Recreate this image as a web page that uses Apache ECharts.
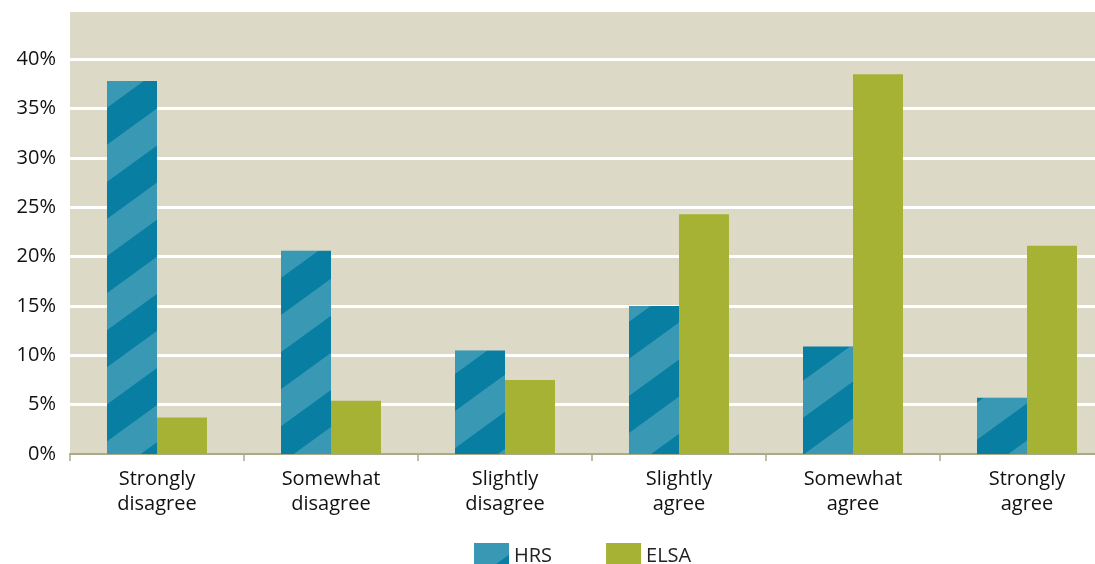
<!DOCTYPE html>
<html lang="en">
<head>
  <meta charset="UTF-8">
  <title>HRS vs ELSA</title>
  <style>
    html, body { margin: 0; padding: 0; background: #ffffff; }
    #main { width: 1095px; height: 564px; }
  </style>
  <script src="https://cdn.jsdelivr.net/npm/echarts@6/dist/echarts.min.js"></script>
</head>
<body>
  <div id="main"></div>
  <script>
    // categories and values (percent)
    var categories = ['Strongly\ndisagree', 'Somewhat\ndisagree', 'Slightly\ndisagree', 'Slightly\nagree', 'Somewhat\nagree', 'Strongly\nagree'];
    var hrsValues = [37.8, 20.6, 10.5, 15.0, 10.9, 5.7];
    var elsaValues = [3.7, 5.4, 7.5, 24.3, 38.5, 21.1];
    var yTicks = [0, 5, 10, 15, 20, 25, 30, 35, 40];

    var chart = echarts.init(document.getElementById('main'));

    var option = {
      textStyle: { fontFamily: '"Open Sans", sans-serif' },
      grid: {
        left: 70,
        width: 1044,   // plot runs past the right edge in the original
        top: 10,
        bottom: 110,
        outerBoundsMode: 'none',
        show: true,
        backgroundColor: '#dcd9c6',
        borderWidth: 0
      },
      legend: {
        left: 469,
        top: 538,
        icon: 'rect',
        itemWidth: 35,
        itemHeight: 26,
        itemGap: 54,
        textStyle: { fontSize: 20, color: '#222' },
        data: ['HRS', 'ELSA']
      },
      xAxis: {
        type: 'category',
        data: categories,
        axisLine: { lineStyle: { color: '#a9aa8a', width: 2 } },
        axisTick: { show: true, length: 7, lineStyle: { color: '#a9aa8a', width: 1.5 } },
        axisLabel: {
          color: '#111',
          fontSize: 20,
          lineHeight: 25,
          margin: 13
        }
      },
      yAxis: {
        type: 'value',
        min: 0,
        max: 45,
        interval: 5,
        axisLine: { show: false },
        axisTick: { show: false },
        axisLabel: {
          color: '#111',
          fontSize: 20,
          margin: 14,
          formatter: function (v) {
            return yTicks.indexOf(v) >= 0 ? v + '%' : '';
          }
        },
        splitLine: { lineStyle: { color: '#ffffff', width: 3 } }
      },
      series: [
        {
          name: 'HRS',
          type: 'bar',
          data: hrsValues,
          barWidth: 50,
          barGap: '0%',
          itemStyle: {
            color: '#087fa2',
            decal: {
              symbol: 'rect',
              color: 'rgba(255,255,255,0.2)',
              dashArrayX: [1, 0],
              dashArrayY: [30, 30],
              rotation: -Math.PI / 5
            }
          }
        },
        {
          name: 'ELSA',
          type: 'bar',
          data: elsaValues,
          barWidth: 50,
          itemStyle: { color: '#a6b234' }
        }
      ]
    };

    chart.setOption(option);
  </script>
</body>
</html>
